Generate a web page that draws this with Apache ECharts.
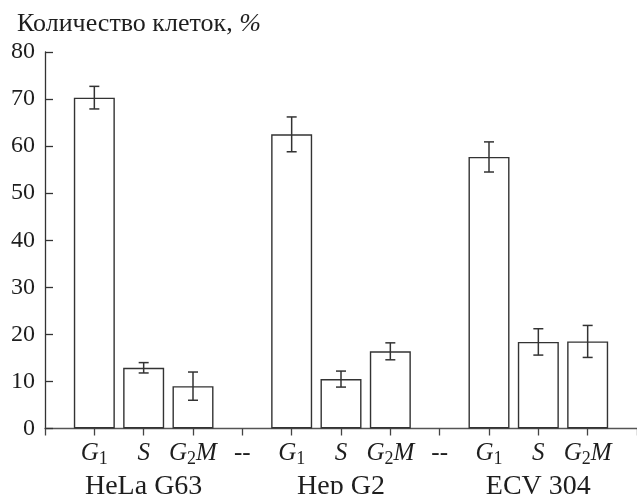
<!DOCTYPE html>
<html>
<head>
<meta charset="utf-8">
<script src="https://cdn.jsdelivr.net/npm/echarts@6/dist/echarts.min.js"></script>
<style>
html,body{margin:0;padding:0;background:#fff;}
#chart{width:637px;height:494px;}
</style>
</head>
<body>
<div id="chart"></div>
<script>
// ---- data ----
var groups = ['HeLa G63', 'Hep G2', 'ECV 304'];
var phases = ['G1', 'S', 'G2M'];
var helaMeans = [70.3, 12.9, 9.0];
var helaErrors = [2.4, 1.1, 3.0];
var hepMeans = [62.5, 10.5, 16.4];
var hepErrors = [3.7, 1.7, 1.8];
var ecvMeans = [57.7, 18.4, 18.5];
var ecvErrors = [3.2, 2.8, 3.4];
var yTicks = {min: 0, max: 80, interval: 10};
var yTitle = 'Количество клеток, ';

// ---- build category layout: '', G1,S,G2M, '--', G1,S,G2M, '--', G1,S,G2M, '' ----
var allMeans = [helaMeans, hepMeans, ecvMeans];
var allErrors = [helaErrors, hepErrors, ecvErrors];
var cats = [''];
var groupCats = [''];
var barData = [null];
var errData = [];
for (var g = 0; g < groups.length; g++) {
  for (var p = 0; p < phases.length; p++) {
    var idx = cats.length;
    cats.push(phases[p]);
    groupCats.push(p === 1 ? groups[g] : '');
    barData.push(allMeans[g][p]);
    errData.push([idx, allMeans[g][p] - allErrors[g][p], allMeans[g][p] + allErrors[g][p]]);
  }
  if (g < groups.length - 1) { cats.push('--'); groupCats.push(''); barData.push(null); }
}
cats.push(''); groupCats.push(''); barData.push(null);

var TXT = '#1e1e1e';
var LINE = '#333';
var FONT = 'Liberation Serif';

function phaseLabel(v) {
  if (v === 'G1') return '{it|G}{sub|1}';
  if (v === 'G2M') return '{it|G}{sub|2}{it|M}';
  if (v === 'S') return '{it|S}';
  if (v === '--') return '{n|--}';
  return '';
}

var chart = echarts.init(document.getElementById('chart'), null, {renderer: 'canvas'});
chart.setOption({
  animation: false,
  backgroundColor: '#fff',
  title: {
    text: yTitle + '{pc|%}',
    left: 12, top: 6,
    textStyle: {
      fontFamily: FONT, fontSize: 26, fontWeight: 'normal', color: TXT,
      rich: {pc: {fontFamily: FONT, fontSize: 26, fontStyle: 'italic', color: TXT}}
    }
  },
  grid: {left: 45, right: 0, top: 52, bottom: 65.5, containLabel: false, outerBoundsMode: 'none'},
  xAxis: [{
    type: 'category',
    data: cats,
    boundaryGap: false,
    position: 'bottom',
    axisLine: {show: true, onZero: false, lineStyle: {color: '#555', width: 1.3}},
    axisTick: {show: true, inside: false, length: 7, interval: 0, lineStyle: {color: '#444', width: 1.3}},
    axisLabel: {
      interval: 0, margin: 10, formatter: phaseLabel,
      rich: {
        it: {fontFamily: FONT, fontSize: 25, fontStyle: 'italic', color: TXT, lineHeight: 30, verticalAlign: 'middle'},
        sub: {fontFamily: FONT, fontSize: 18, color: TXT, lineHeight: 16, verticalAlign: 'bottom'},
        n: {fontFamily: FONT, fontSize: 25, color: TXT, lineHeight: 30}
      }
    },
    splitLine: {show: false}
  }, {
    type: 'category',
    data: groupCats,
    boundaryGap: false,
    position: 'bottom',
    axisLine: {show: false},
    axisTick: {show: false},
    axisLabel: {interval: 0, margin: 44, fontFamily: FONT, fontSize: 28, color: TXT},
    splitLine: {show: false}
  }],
  yAxis: {
    type: 'value',
    min: yTicks.min, max: yTicks.max, interval: yTicks.interval,
    axisLine: {show: true, lineStyle: {color: LINE, width: 1.3}},
    axisTick: {show: true, inside: true, length: 8, lineStyle: {color: LINE, width: 1.3}},
    axisLabel: {margin: 10, fontFamily: FONT, fontSize: 24, color: TXT},
    splitLine: {show: false}
  },
  series: [{
    type: 'bar',
    xAxisIndex: 0,
    data: barData,
    barWidth: 41,
    itemStyle: {color: '#fff', borderColor: LINE, borderWidth: 1.4},
    silent: true
  }, {
    type: 'custom',
    xAxisIndex: 0,
    data: errData,
    silent: true,
    z: 5,
    renderItem: function (params, api) {
      var x = api.value(0);
      var lo = api.coord([x, api.value(1)]);
      var hi = api.coord([x, api.value(2)]);
      var hw = 5;
      var st = {stroke: LINE, lineWidth: 1.5};
      return {
        type: 'group',
        children: [
          {type: 'line', shape: {x1: lo[0], y1: lo[1], x2: hi[0], y2: hi[1]}, style: st},
          {type: 'line', shape: {x1: hi[0] - hw, y1: hi[1], x2: hi[0] + hw, y2: hi[1]}, style: st},
          {type: 'line', shape: {x1: lo[0] - hw, y1: lo[1], x2: lo[0] + hw, y2: lo[1]}, style: st}
        ]
      };
    }
  }]
});
</script>
</body>
</html>
